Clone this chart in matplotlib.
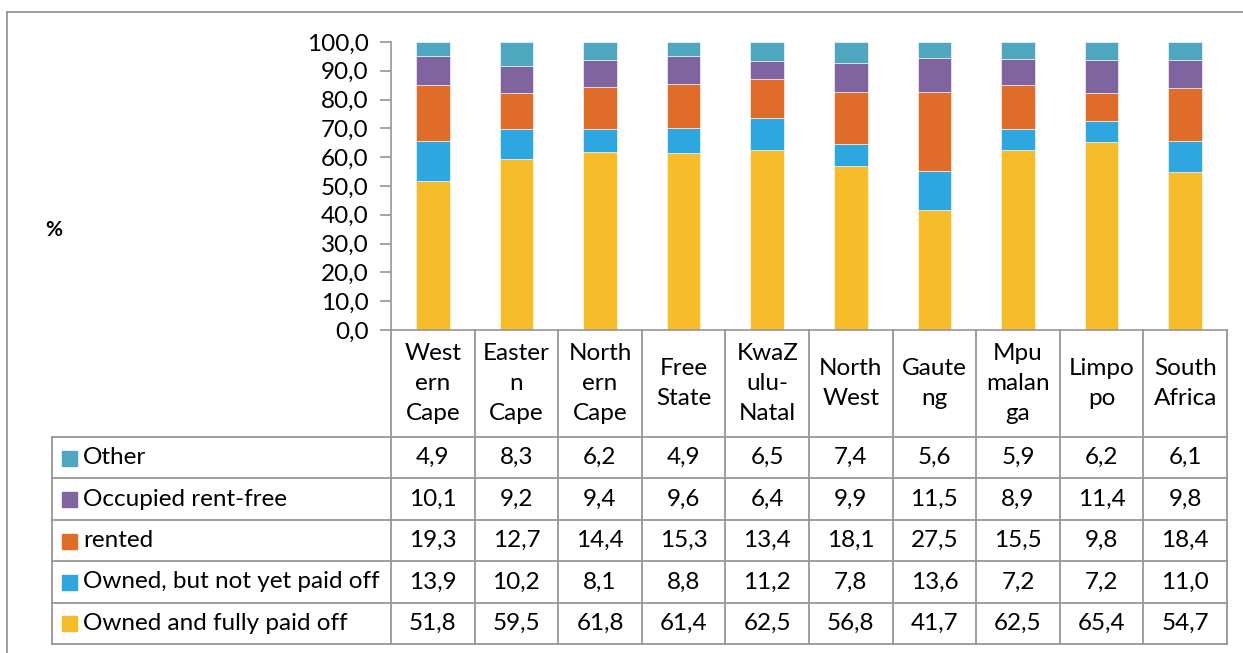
import numpy as np
import matplotlib.pyplot as plt
from matplotlib.patches import Rectangle
from matplotlib.lines import Line2D

plt.rcParams['font.family'] = ['Lato', 'DejaVu Sans']

# -----------------------------
# Data
# -----------------------------
provinces = ["West\nern\nCape", "Easter\nn\nCape", "North\nern\nCape", "Free\nState",
             "KwaZ\nulu-\nNatal", "North\nWest", "Gaute\nng", "Mpu\nmalan\nga",
             "Limpo\npo", "South\nAfrica"]

owned_paid = [51.8, 59.5, 61.8, 61.4, 62.5, 56.8, 41.7, 62.5, 65.4, 54.7]
owned_not_paid = [13.9, 10.2, 8.1, 8.8, 11.2, 7.8, 13.6, 7.2, 7.2, 11.0]
rented = [19.3, 12.7, 14.4, 15.3, 13.4, 18.1, 27.5, 15.5, 9.8, 18.4]
rent_free = [10.1, 9.2, 9.4, 9.6, 6.4, 9.9, 11.5, 8.9, 11.4, 9.8]
other = [4.9, 8.3, 6.2, 4.9, 6.5, 7.4, 5.6, 5.9, 6.2, 6.1]

series_names = ["Owned and fully paid off", "Owned, but not yet paid off",
                "rented", "Occupied rent-free", "Other"]
series_values = [owned_paid, owned_not_paid, rented, rent_free, other]
colors = ["#F6BC2A", "#2EA7E0", "#E06C2A", "#7F64A0", "#4EA6BF"]

W, H = 1243, 653
FS = 17.5
fig = plt.figure(figsize=(W / 100, H / 100), dpi=100)


def fx(px):
    return px / W


def fy(py):
    return 1 - py / H


grid_col = "#969696"

# -----------------------------
# Stacked bars
# -----------------------------
x_left, x_right = 391, 1227
y_top, y_bot = 42, 330
ax = fig.add_axes([fx(x_left), fy(y_bot), fx(x_right) - fx(x_left), fy(y_top) - fy(y_bot)])
x = np.arange(len(provinces))
bottom = np.zeros(len(provinces))
for name, vals, c in zip(series_names, series_values, colors):
    ax.bar(x, vals, width=0.4, bottom=bottom, color=c, edgecolor="#ffffff",
           linewidth=0.4, label=name)
    bottom += np.array(vals)

ax.set_xlim(-0.5, len(provinces) - 0.5)
ax.set_ylim(0, 100)
ax.set_yticks(np.arange(0, 101, 10))
ax.set_yticklabels([f"{v:.1f}".replace(".", ",") for v in np.arange(0, 101, 10)],
                   fontsize=FS)
ax.tick_params(axis="y", length=8, color=grid_col, width=1.2, pad=8)
ax.set_xticks([])
for s in ["top", "right"]:
    ax.spines[s].set_visible(False)
ax.spines["left"].set_color(grid_col)
ax.spines["left"].set_linewidth(1.2)
ax.spines["bottom"].set_color(grid_col)
ax.spines["bottom"].set_linewidth(1.2)

fig.text(fx(45), fy(230), "%", fontsize=15, fontweight="bold", va="center", ha="left")

# -----------------------------
# Data table
# -----------------------------
col_w = (x_right - x_left) / len(provinces)
head_bot = 437
row_h = (644 - head_bot) / len(series_names)
tbl_left = 52


def hline(x0, x1, y):
    fig.add_artist(Line2D([fx(x0), fx(x1)], [fy(y), fy(y)], color=grid_col, lw=1.3))


def vline(xp, y0, y1):
    fig.add_artist(Line2D([fx(xp), fx(xp)], [fy(y0), fy(y1)], color=grid_col, lw=1.3))


for i in range(len(provinces) + 1):
    vline(x_left + i * col_w, y_bot, 644)
vline(tbl_left, head_bot, 644)
for r in range(len(series_names) + 1):
    hline(tbl_left, x_right, head_bot + r * row_h)

for i, p in enumerate(provinces):
    fig.text(fx(x_left + (i + 0.5) * col_w), fy((y_bot + head_bot) / 2), p,
             ha="center", va="center", fontsize=FS, linespacing=1.55)

# rows in table are top to bottom: Other ... Owned and fully paid off
for r, idx in enumerate(range(len(series_names) - 1, -1, -1)):
    yc = head_bot + (r + 0.5) * row_h
    fig.add_artist(Rectangle((fx(62), fy(yc + 8)), fx(15), 15 / H,
                             color=colors[idx], transform=fig.transFigure))
    fig.text(fx(83), fy(yc), series_names[idx], ha="left", va="center", fontsize=FS)
    for i, v in enumerate(series_values[idx]):
        fig.text(fx(x_left + (i + 0.5) * col_w), fy(yc), f"{v:.1f}".replace(".", ","),
                 ha="center", va="center", fontsize=FS)

# outer chart border (top and left visible)
hline(7, W, 12)
vline(7, 12, H)

fig.savefig("out.png", dpi=100)
